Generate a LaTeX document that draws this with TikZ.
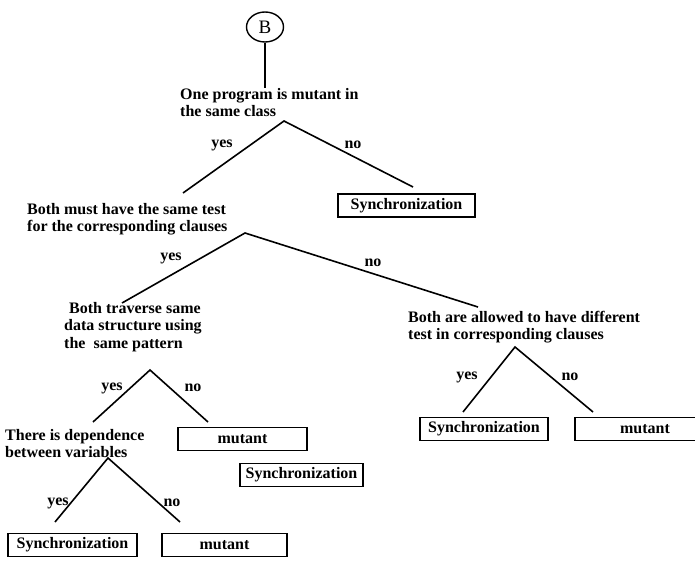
\documentclass[tikz,border=0pt]{standalone}
\usepackage{fontspec}
\setmainfont{Liberation Serif}
\usetikzlibrary{shapes.geometric}
\begin{document}
\begin{tikzpicture}[x=1pt,y=-1pt,
  every node/.style={font=\fontsize{16}{17.5}\selectfont\bfseries},
  question/.style={anchor=north west, inner sep=0pt, align=left},
  answer/.style={inner sep=0pt},
  leafbox/.style={draw, line width=1.4pt, inner sep=0pt, minimum height=23},
  branch/.style={line width=1.6pt},
  start/.style={draw, ellipse, line width=1.4pt, minimum width=37, minimum height=30, inner sep=0pt,
    font=\fontsize{19}{20}\selectfont}]
\useasboundingbox (0,0) rectangle (695,561);
\clip (0,0) rectangle (695,561);

% entry point
\node[start] (B) at (265,27) {B};

% decisions
\node[question] (q1) at (180,88) {One program is mutant in\\the same class};
\node[question] (q2) at (27,203) {Both must have the same test\\for the corresponding clauses};
\node[question] (q3) at (64,302) {\hspace{5pt}Both traverse same\\data structure using\\the\ \ same pattern};
\node[question] (q4) at (5,429) {There is dependence\\between variables};
\node[question] (q5) at (408,311) {Both are allowed to have different\\test in corresponding clauses};

% outcomes
\node[leafbox, minimum width=137] (s1) at (406.5,205.5) {Synchronization};
\node[leafbox, minimum width=129] (m1) at (242.5,439) {mutant};
\node[leafbox, minimum width=123] (s2) at (301.5,475) {Synchronization};
\node[leafbox, minimum width=129] (s3) at (72.5,545) {Synchronization};
\node[leafbox, minimum width=125] (m2) at (224.5,545) {mutant};
\node[leafbox, minimum width=128] (s4) at (484,429) {Synchronization};
\node[leafbox, minimum width=140] (m3) at (645,429) {mutant};

% branch points
\coordinate (a1) at (284,121);
\coordinate (a2) at (245,233);
\coordinate (a3) at (150,370);
\coordinate (a4) at (108,458);
\coordinate (a5) at (515,347);

% branch ends
\coordinate (e1y) at (183,193);
\coordinate (e1n) at (413,187);
\coordinate (e2y) at (122,303);
\coordinate (e2n) at (478,307);
\coordinate (e3y) at (93,422);
\coordinate (e3n) at (208,422);
\coordinate (e4y) at (55,522);
\coordinate (e4n) at (180,522);
\coordinate (e5y) at (463,412);
\coordinate (e5n) at (593,412);

% connectors
\draw[branch] (B.south) -- (B.south |- q1.north);
\draw[branch] (e1y) -- (a1) -- (e1n);
\draw[branch] (e2y) -- (a2) -- (e2n);
\draw[branch] (e3y) -- (a3) -- (e3n);
\draw[branch] (e4y) -- (a4) -- (e4n);
\draw[branch] (e5y) -- (a5) -- (e5n);

% answer labels
\node[answer] (y1) at (222,145) {yes};
\node[answer] (n1) at (353,145) {no};
\node[answer] (y2) at (171,258) {yes};
\node[answer] (n2) at (373,263) {no};
\node[answer] (y3) at (112,388) {yes};
\node[answer] (n3) at (193,388) {no};
\node[answer] (y4) at (58,503) {yes};
\node[answer] (n4) at (172,503) {no};
\node[answer] (y5) at (467,377) {yes};
\node[answer] (n5) at (570,377) {no};
\end{tikzpicture}
\end{document}
